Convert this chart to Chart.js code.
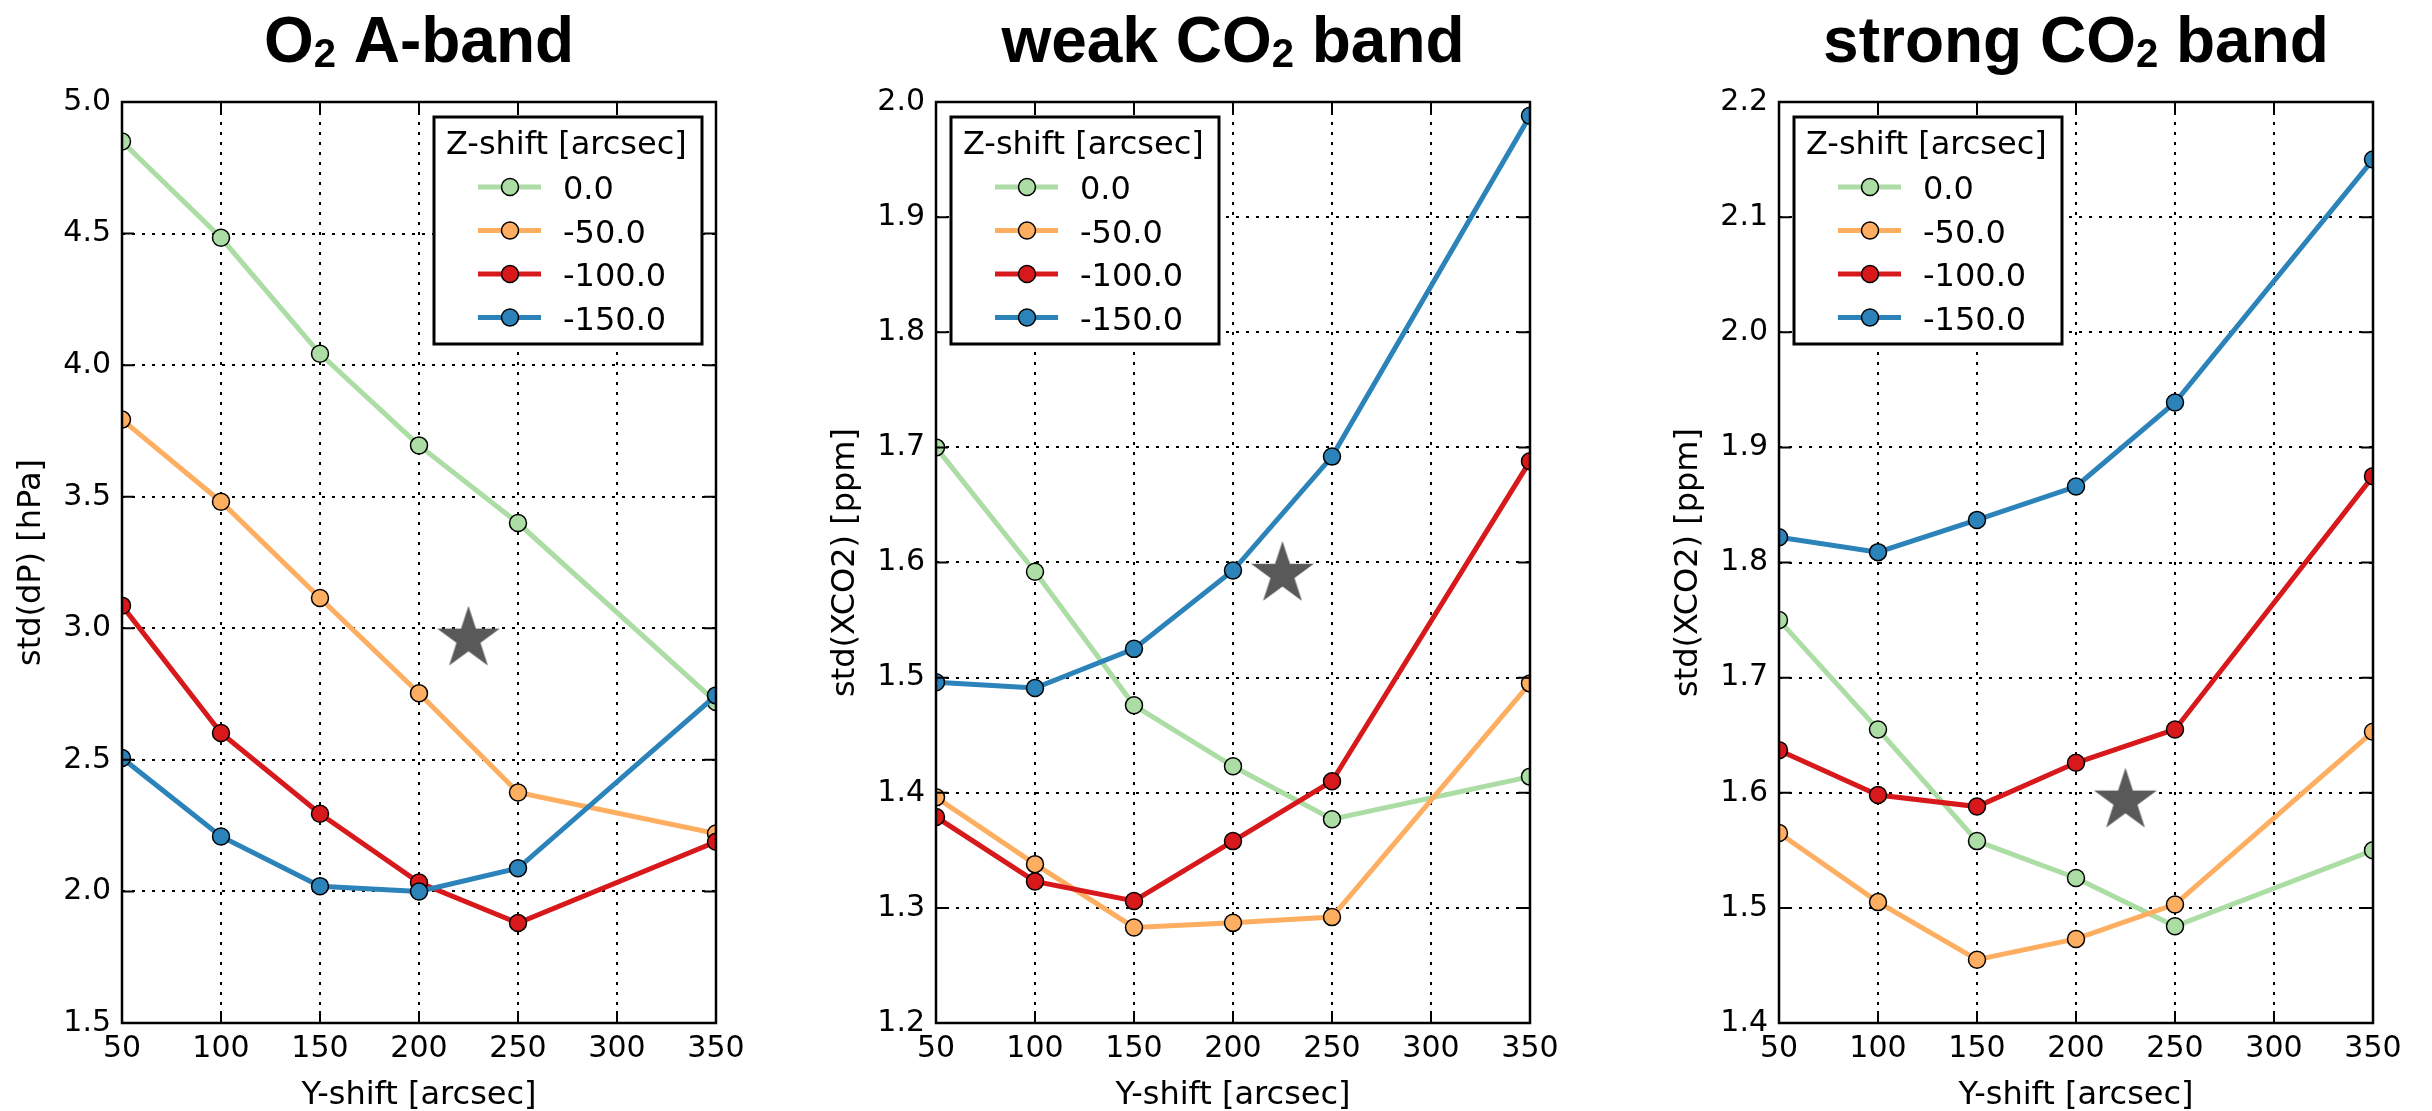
<!DOCTYPE html>
<html>
<head>
<meta charset="utf-8">
<title>std vs Y-shift</title>
<script src="https://cdn.jsdelivr.net/npm/chart.js@4.4.1/dist/chart.umd.min.js"></script>
<style>
  html, body { margin: 0; padding: 0; background: #fff; }
  #wrap { position: relative; width: 2432px; height: 1111px; overflow: hidden; background: #fff; }
  #wrap canvas { position: absolute; top: 0; }
</style>
</head>
<body>
<div id="wrap">
  <canvas id="o2" width="756" height="1111" style="left:0px"></canvas>
  <canvas id="weak" width="756" height="1111" style="left:814px"></canvas>
  <canvas id="strong" width="756" height="1111" style="left:1657px"></canvas>
</div>
<script>
// x positions (Y-shift) and legend entries (Z-shift)
const yShift = [50, 100, 150, 200, 250, 350];
const zShift = ['0.0', '-50.0', '-100.0', '-150.0'];

// O2 A-band, std(dP) [hPa]
const o2Z0 = [4.850, 4.484, 4.043, 3.695, 3.400, 2.720];
const o2Z50 = [3.793, 3.481, 3.115, 2.753, 2.376, 2.220];
const o2Z100 = [3.086, 2.602, 2.295, 2.034, 1.880, 2.189];
const o2Z150 = [2.507, 2.209, 2.020, 2.000, 2.088, 2.745];
const o2Star = [225, 2.96];
const o2Ticks = [1.5, 2.0, 2.5, 3.0, 3.5, 4.0, 4.5, 5.0];

// weak CO2 band, std(XCO2) [ppm]
const weakZ0 = [1.700, 1.592, 1.476, 1.423, 1.377, 1.414];
const weakZ50 = [1.396, 1.338, 1.283, 1.287, 1.292, 1.495];
const weakZ100 = [1.379, 1.323, 1.306, 1.358, 1.410, 1.688];
const weakZ150 = [1.496, 1.491, 1.525, 1.593, 1.692, 1.988];
const weakStar = [225, 1.59];
const weakTicks = [1.2, 1.3, 1.4, 1.5, 1.6, 1.7, 1.8, 1.9, 2.0];

// strong CO2 band, std(XCO2) [ppm]
const strongZ0 = [1.750, 1.655, 1.558, 1.526, 1.484, 1.550];
const strongZ50 = [1.565, 1.505, 1.455, 1.473, 1.503, 1.653];
const strongZ100 = [1.637, 1.598, 1.588, 1.626, 1.655, 1.875];
const strongZ150 = [1.822, 1.809, 1.837, 1.866, 1.939, 2.150];
const strongStar = [225, 1.593];
const strongTicks = [1.4, 1.5, 1.6, 1.7, 1.8, 1.9, 2.0, 2.1, 2.2];

const xTicks = [50, 100, 150, 200, 250, 300, 350];

const lineColors = ['#abdda4', '#fdae61', '#d7191c', '#2b83ba'];
const FONT = "'DejaVu Sans', sans-serif";
const TITLE_FONT = "'Liberation Sans', Arial, sans-serif";

// filled five-point star used as the marker for the reference point
function makeStar(R, color) {
  const c = document.createElement('canvas');
  const s = Math.ceil(R * 2 + 4);
  c.width = s; c.height = s;
  const g = c.getContext('2d');
  g.translate(s / 2, s / 2);
  g.beginPath();
  for (let k = 0; k < 10; k++) {
    const a = -Math.PI / 2 + k * Math.PI / 5;
    const r = k % 2 === 0 ? R : R * 0.382;
    g.lineTo(r * Math.cos(a), r * Math.sin(a));
  }
  g.closePath();
  g.fillStyle = color;
  g.fill();
  return c;
}
const starMarker = makeStar(33, '#595959');

// box around the axes plus inward tick marks on all four sides
const framePlugin = {
  id: 'frame',
  afterDatasetsDraw(chart) {
    const {ctx, chartArea: a, scales} = chart;
    ctx.save();
    ctx.strokeStyle = '#000';
    ctx.lineWidth = 2;
    const tl = 12;
    scales.x.ticks.forEach(t => {
      const px = scales.x.getPixelForValue(t.value);
      ctx.beginPath();
      ctx.moveTo(px, a.bottom); ctx.lineTo(px, a.bottom - tl);
      ctx.moveTo(px, a.top); ctx.lineTo(px, a.top + tl);
      ctx.stroke();
    });
    scales.y.ticks.forEach(t => {
      const py = scales.y.getPixelForValue(t.value);
      ctx.beginPath();
      ctx.moveTo(a.left, py); ctx.lineTo(a.left + tl, py);
      ctx.moveTo(a.right, py); ctx.lineTo(a.right - tl, py);
      ctx.stroke();
    });
    ctx.lineWidth = 2.5;
    ctx.strokeRect(a.left, a.top, a.right - a.left, a.bottom - a.top);
    ctx.restore();
  }
};

// legend box with title, line + marker samples
const zLegendPlugin = {
  id: 'zLegend',
  afterDraw(chart, args, opts) {
    const {ctx, chartArea: a} = chart;
    const w = 268, h = 227;
    const x = opts.side === 'right' ? a.right - 14 - w : a.left + 15;
    const y = a.top + 15;
    ctx.save();
    ctx.fillStyle = '#fff';
    ctx.fillRect(x, y, w, h);
    ctx.strokeStyle = '#000';
    ctx.lineWidth = 3;
    ctx.strokeRect(x, y, w, h);
    ctx.fillStyle = '#000';
    ctx.font = '32px ' + FONT;
    ctx.textBaseline = 'alphabetic';
    ctx.fillText(opts.title, x + 12, y + 37);
    const items = chart.data.datasets.filter(d => !d.refPoint);
    items.forEach((d, i) => {
      const cy = y + 70 + i * 43.5;
      ctx.strokeStyle = d.borderColor;
      ctx.lineWidth = d.borderWidth;
      ctx.beginPath();
      ctx.moveTo(x + 44, cy); ctx.lineTo(x + 107, cy);
      ctx.stroke();
      ctx.beginPath();
      ctx.arc(x + 76, cy, d.pointRadius, 0, Math.PI * 2);
      ctx.fillStyle = d.pointBackgroundColor;
      ctx.fill();
      ctx.strokeStyle = '#000';
      ctx.lineWidth = d.pointBorderWidth;
      ctx.stroke();
      ctx.fillStyle = '#000';
      ctx.fillText(d.label, x + 129, cy + 12);
    });
    ctx.restore();
  }
};

// bold panel title; "_{...}" marks a subscript
const panelTitlePlugin = {
  id: 'panelTitle',
  afterDraw(chart, args, opts) {
    const {ctx, chartArea: a} = chart;
    const parts = opts.text.split(/_\{(.*?)\}/).map((s, i) => ({s, sub: i % 2 === 1}));
    const big = 'bold 64px ' + TITLE_FONT, small = 'bold 40px ' + TITLE_FONT;
    ctx.save();
    let total = 0;
    parts.forEach(p => { ctx.font = p.sub ? small : big; p.w = ctx.measureText(p.s).width; total += p.w; });
    let cx = (a.left + a.right) / 2 - total / 2;
    const base = 62;
    ctx.fillStyle = '#000';
    ctx.textBaseline = 'alphabetic';
    parts.forEach(p => {
      ctx.font = p.sub ? small : big;
      ctx.fillText(p.s, cx, p.sub ? base + 5 : base);
      cx += p.w;
    });
    ctx.restore();
  }
};

function fixWidth(w) {
  return s => { s.width = w; s.paddingTop = 0; s.paddingBottom = 0; s.paddingLeft = 0; s.paddingRight = 0; };
}
function fixHeight(h) {
  return s => { s.height = h; s.paddingTop = 0; s.paddingBottom = 0; s.paddingLeft = 0; s.paddingRight = 0; };
}

function makePanel(id, title, yLabel, series, star, yTicks, legendSide) {
  const datasets = series.map((vals, i) => ({
    label: zShift[i],
    data: yShift.map((x, j) => ({x: x, y: vals[j]})),
    borderColor: lineColors[i],
    backgroundColor: lineColors[i],
    pointBackgroundColor: lineColors[i],
    pointBorderColor: '#000',
    pointBorderWidth: 1.5,
    pointRadius: 8.5,
    pointHoverRadius: 8.5,
    borderWidth: 5,
    tension: 0,
    clip: 0,
    order: series.length - i
  }));
  datasets.push({
    label: 'reference',
    refPoint: true,
    data: [{x: star[0], y: star[1]}],
    showLine: false,
    pointStyle: starMarker,
    pointRadius: 33,
    pointHoverRadius: 33,
    clip: 0,
    order: 0
  });

  const yStep = +(yTicks[1] - yTicks[0]).toFixed(3);
  new Chart(document.getElementById(id), {
    type: 'line',
    data: {datasets},
    options: {
      responsive: false,
      animation: false,
      events: [],
      layout: {padding: {top: 102, right: 40, left: 0, bottom: 0}},
      plugins: {
        legend: {display: false},
        tooltip: {enabled: false},
        zLegend: {title: 'Z-shift [arcsec]', side: legendSide},
        panelTitle: {text: title}
      },
      scales: {
        x: {
          type: 'linear',
          min: xTicks[0],
          max: xTicks[xTicks.length - 1],
          ticks: {stepSize: xTicks[1] - xTicks[0], padding: 8, color: '#000', font: {family: FONT, size: 30}},
          grid: {color: '#000', lineWidth: 2, drawTicks: false},
          border: {display: false, dash: [3, 7]},
          title: {display: true, text: 'Y-shift [arcsec]', color: '#000', font: {family: FONT, size: 32}, padding: {top: 0, bottom: -4}},
          afterFit: fixHeight(88)
        },
        y: {
          type: 'linear',
          min: yTicks[0],
          max: yTicks[yTicks.length - 1],
          ticks: {stepSize: yStep, padding: 11, color: '#000', font: {family: FONT, size: 30}, callback: v => v.toFixed(1)},
          grid: {color: '#000', lineWidth: 2, drawTicks: false},
          border: {display: false, dash: [3, 7]},
          title: {display: true, text: yLabel, color: '#000', font: {family: FONT, size: 32}, padding: {top: 12, bottom: 0}},
          afterFit: fixWidth(122)
        }
      }
    },
    plugins: [framePlugin, zLegendPlugin, panelTitlePlugin]
  });
}

makePanel('o2', 'O_{2} A-band', 'std(dP) [hPa]', [o2Z0, o2Z50, o2Z100, o2Z150], o2Star, o2Ticks, 'right');
makePanel('weak', 'weak CO_{2} band', 'std(XCO2) [ppm]', [weakZ0, weakZ50, weakZ100, weakZ150], weakStar, weakTicks, 'left');
makePanel('strong', 'strong CO_{2} band', 'std(XCO2) [ppm]', [strongZ0, strongZ50, strongZ100, strongZ150], strongStar, strongTicks, 'left');
</script>
</body>
</html>
